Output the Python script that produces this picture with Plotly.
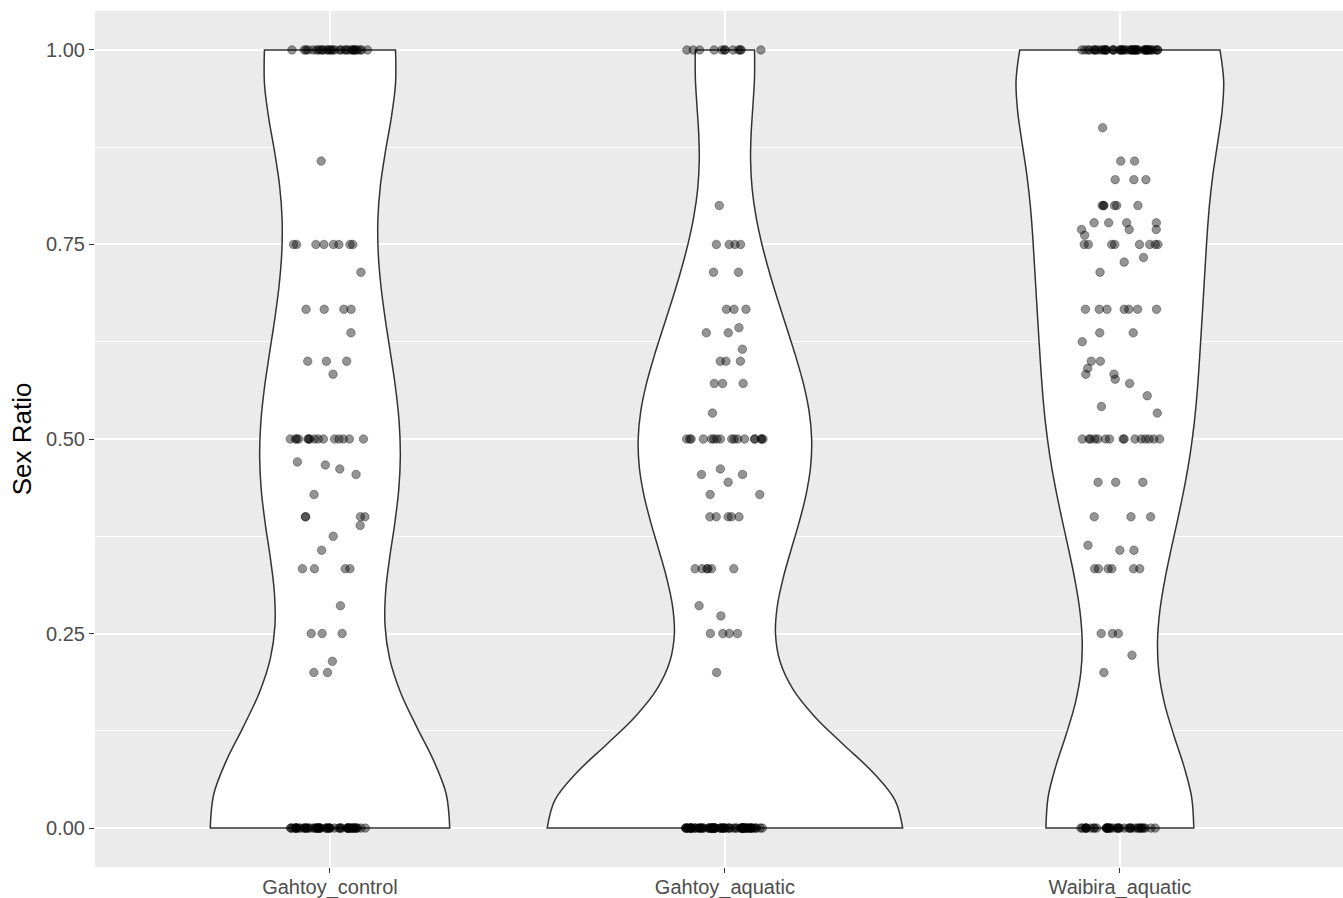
import numpy as np
import plotly.graph_objects as go

categories = ["Gahtoy_control", "Gahtoy_aquatic", "Waibira_aquatic"]

gc_values = [0.0, 0.2, 0.2143, 0.25, 0.2857, 0.3333, 0.3571, 0.375, 0.3889, 0.4,
             0.4286, 0.4545, 0.4615, 0.4667, 0.4706, 0.5, 0.5833, 0.6, 0.6364,
             0.6667, 0.7143, 0.75, 0.8571, 1.0]
gc_counts = [57, 2, 1, 3, 1, 4, 1, 1, 1, 4,
             1, 1, 1, 1, 1, 15, 1, 3, 1,
             4, 1, 8, 1, 30]

ga_values = [0.0, 0.2, 0.25, 0.2727, 0.2857, 0.3333, 0.4, 0.4286, 0.4444, 0.4545,
             0.4615, 0.5, 0.5333, 0.5714, 0.6, 0.6154, 0.6364, 0.6429, 0.6667,
             0.7143, 0.75, 0.8, 1.0]
ga_counts = [75, 1, 4, 1, 1, 6, 5, 2, 1, 2,
             1, 17, 1, 3, 3, 1, 2, 1, 3,
             2, 4, 1, 12]

wa_values = [0.0, 0.2, 0.2222, 0.25, 0.3333, 0.3571, 0.3636, 0.4, 0.4444, 0.5,
             0.5333, 0.5417, 0.5556, 0.5714, 0.5769, 0.5833, 0.5909, 0.6, 0.625,
             0.6364, 0.6667, 0.7143, 0.7273, 0.7333, 0.75, 0.7619, 0.7692, 0.7778,
             0.8, 0.8333, 0.8571, 0.9, 1.0]
wa_counts = [39, 1, 1, 3, 6, 2, 1, 3, 3, 15,
             1, 1, 1, 1, 1, 2, 1, 2, 1,
             2, 7, 1, 1, 1, 8, 1, 3, 4,
             6, 3, 2, 1, 47]

y_tick_vals = [0.0, 0.25, 0.5, 0.75, 1.0]
y_tick_text = ["0.00", "0.25", "0.50", "0.75", "1.00"]
y_title = "Sex Ratio"


def nrd0(x):
    """R's default bandwidth (bw.nrd0), as used by ggplot2's geom_violin."""
    x = np.asarray(x, dtype=float)
    sd = x.std(ddof=1)
    q75, q25 = np.percentile(x, [75, 25])
    lo = min(sd, (q75 - q25) / 1.34)
    if lo == 0:
        lo = sd if sd > 0 else 1.0
    return 0.9 * lo * len(x) ** -0.2


groups = [
    (categories[0], gc_values, gc_counts),
    (categories[1], ga_values, ga_counts),
    (categories[2], wa_values, wa_counts),
]

fig = go.Figure()
pt_col = "rgba(0,0,0,0.42)"
for name, vals, cnts in groups:
    y = np.repeat(np.asarray(vals, dtype=float), cnts)
    fig.add_trace(go.Violin(
        x=[name] * len(y), y=y, name=name,
        bandwidth=nrd0(y), spanmode="hard",
        scalemode="width", scalegroup="all",
        fillcolor="white", line=dict(color="#333333", width=1.5),
        points="all", pointpos=0, jitter=0.225,
        marker=dict(color=pt_col, size=8.5, line=dict(color=pt_col, width=0.8)),
        box_visible=False, meanline_visible=False,
        showlegend=False, hoverinfo="skip",
    ))

minor_vals = [(a + b) / 2 for a, b in zip(y_tick_vals[:-1], y_tick_vals[1:])]

fig.update_layout(
    width=1343, height=898,
    margin=dict(l=95, r=0, t=11, b=31, autoexpand=False),
    paper_bgcolor="white", plot_bgcolor="#EBEBEB",
    violinmode="overlay", violingap=0.1, violingroupgap=0,
    font=dict(family="Liberation Sans, Arial, sans-serif", size=20, color="#4D4D4D"),
    showlegend=False,
)
fig.update_xaxes(
    type="category", categoryorder="array", categoryarray=categories,
    range=[-0.595, 2.565], automargin=False,
    showgrid=True, gridcolor="white", gridwidth=1.8,
    ticks="outside", ticklen=5, tickwidth=1.3, tickcolor="#333333",
    ticklabelstandoff=-3,
    zeroline=False, showline=False,
    tickfont=dict(size=20, color="#4D4D4D"),
)
fig.update_yaxes(
    range=[-0.05, 1.05], automargin=False,
    tickvals=y_tick_vals, ticktext=y_tick_text,
    showgrid=True, gridcolor="white", gridwidth=1.8,
    minor=dict(tickvals=minor_vals, showgrid=True, gridcolor="white", gridwidth=0.9, ticks=""),
    ticks="outside", ticklen=5, tickwidth=1.3, tickcolor="#333333",
    zeroline=False, showline=False,
    tickfont=dict(size=20, color="#4D4D4D"),
    title=dict(text=y_title, font=dict(size=26, color="black"), standoff=6),
)

fig.write_html("out.html", config={"displayModeBar": False},
               post_script="document.body.style.margin='0';")
